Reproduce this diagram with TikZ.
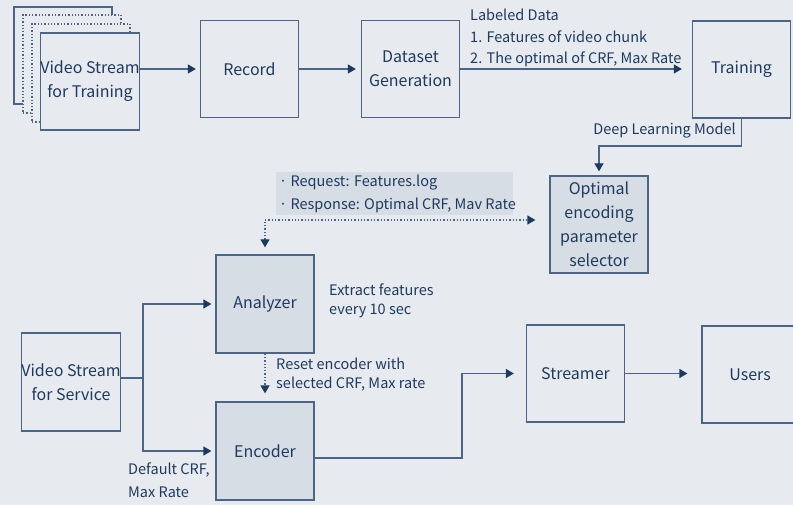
\documentclass[tikz,border=0pt]{standalone}
\usepackage{fontspec}
\setmainfont{Noto Sans CJK KR}
\usetikzlibrary{arrows.meta,calc}
\definecolor{bg}{HTML}{E7EAEF}
\definecolor{txt}{HTML}{1E3A5F}
\definecolor{ln}{HTML}{4A6585}
\definecolor{fl}{HTML}{D6DDE5}
\definecolor{ar}{HTML}{1E3A5F}
\tikzset{
  box/.style={draw=ln,line width=1.3pt,minimum width=98pt,minimum height=97pt,inner sep=0pt,align=center,text=txt,font=\fontsize{16}{24}\selectfont},
  fbox/.style={box,fill=fl},
  conn/.style={draw=ln,line width=1.3pt},
  arr/.style={conn,-{Triangle[length=8pt,width=9pt,color=ar]}},
  dotarr/.style={draw=ln,line width=1.3pt,dotted,{Triangle[length=8pt,width=9pt,color=ar]}-{Triangle[length=8pt,width=9pt,color=ar]}},
  dotarr1/.style={draw=ln,line width=1.3pt,dotted,-{Triangle[length=8pt,width=9pt,color=ar]}},
  lbl/.style={text=txt,font=\fontsize{14.5}{20}\selectfont,inner sep=0pt,anchor=west},
}
\begin{document}
\begin{tikzpicture}[x=1pt,y=-1pt]
\fill[bg] (0,0) rectangle (793,505);
\useasboundingbox (0,0) rectangle (793,505);
% stacked video stream boxes
\node[box,fill=bg,minimum height=97pt] (b1) at (63,55.5) {};
\node[box,fill=bg,dotted,minimum height=98pt] (b2) at (72,64) {};
\node[box,fill=bg,dotted,minimum height=98pt] (b3) at (81,73) {};
\node[box,fill=bg] (vt) at (90,81.5) {Video Stream\\for Training};
\node[box] (rec) at (249.5,69) {Record};
\node[box] (ds) at (410.5,69) {Dataset\\Generation};
\node[box] (tr) at (741.5,69.5) {Training};
\node[fbox] (opt) at (599,224.5) {Optimal\\encoding\\parameter\\selector};
\node[fbox,minimum height=98pt] (ana) at (265,304) {Analyzer};
\node[fbox,minimum height=98pt] (enc) at (265,451) {Encoder};
\node[box,minimum height=98pt] (vs) at (71,382) {Video Stream\\for Service};
\node[box] (str) at (575.5,373.5) {Streamer};
\node[box,minimum width=106pt] (usr) at (755,374.5) {\hspace*{-10pt}Users};
% top row arrows
\draw[arr,shorten >=4pt] (vt.east |- rec.west) -- (rec.west);
\draw[arr,shorten >=5pt] (rec.east) -- (ds.west);
\draw[arr,shorten >=10pt] (ds.east) -- (tr.west |- ds.east);
\node[lbl] (ld0) at (470,15) {Labeled Data};
\node[lbl] (ld1) at (470,37) {1. Features of video chunk};
\node[lbl] (ld2) at (470,59) {2. The optimal of CRF, Max Rate};
% training to optimal
\coordinate (t1) at (741.5,146);
\draw[arr,shorten >=4pt] (tr.south) -- (t1) -| (opt.north);
\node[lbl,anchor=east] (dlm) at (736,131) {Deep Learning Model};
% request/response
\node[fill=fl,minimum width=237pt,minimum height=43pt,inner sep=0pt] (rq) at (394.5,193.5) {};
\node[lbl] (rq1) at (279,183) {· Request: Features.log};
\node[lbl] (rq2) at (279,205) {· Response: Optimal CRF, Mav Rate};
\coordinate (c1) at (265,220);
\draw[dotarr,shorten <=7pt,shorten >=14pt] (ana.north) -- (c1) -- (opt.west |- c1);
\node[lbl] (ex1) at (329,290) {Extract features};
\node[lbl] (ex2) at (329,311) {every 10 sec};
\draw[dotarr1,shorten >=8pt] (ana.south) -- (enc.north);
\node[lbl] (rs1) at (276,364) {Reset encoder with};
\node[lbl] (rs2) at (276,384) {selected CRF, Max rate};
% service branch
\coordinate (br) at (143,378);
\draw[conn] (vs.east |- br) -- (br);
\draw[arr,shorten >=4pt] (br) |- (ana.west);
\draw[arr,shorten >=4pt] (br) |- (enc.west);
\node[lbl] (df1) at (128,470) {Default CRF,};
\node[lbl] (df2) at (128,492) {Max Rate};
% encoder to streamer to users
\coordinate (e1) at (314,458);
\coordinate (e2) at (462,458);
\draw[arr,shorten >=12pt] (e1) -- (e2) |- (str.west);
\draw[arr,shorten >=14pt] (str.east) -- (usr.west |- str.east);
\end{tikzpicture}
\end{document}
